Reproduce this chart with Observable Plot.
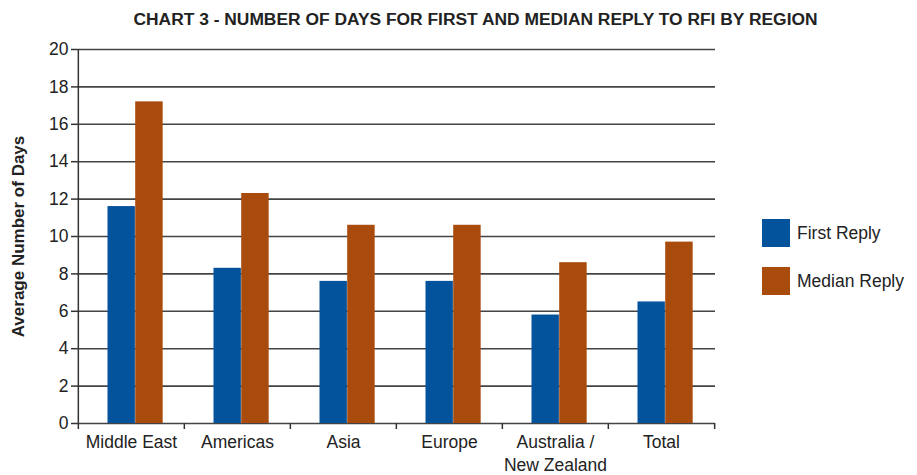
<!DOCTYPE html>
<html>
<head>
<meta charset="utf-8">
<script src="https://cdn.jsdelivr.net/npm/d3@7"></script>
<script src="https://cdn.jsdelivr.net/npm/@observablehq/plot@0.6"></script>
<style>
  html, body { margin: 0; padding: 0; background: #fff; }
  #wrap { position: relative; width: 917px; height: 475px; font-family: "Liberation Sans", Arial, sans-serif; color: #222; }
  #title { position: absolute; left: 0; width: 951px; top: 9px; text-align: center; font-weight: bold; font-size: 17.4px; line-height: 20px; color: #222; white-space: nowrap; }
  #legend { position: absolute; left: 762px; top: 219px; }
  .item { display: flex; align-items: center; height: 28px; margin-bottom: 20px; font-size: 17.5px; white-space: nowrap; }
  .sw { width: 28px; height: 28px; margin-right: 7px; flex: none; }
  svg { display: block; }
</style>
</head>
<body>
<div id="wrap">
  <div id="chart"></div>
  <div id="title"></div>
  <div id="legend"></div>
</div>
<script>
const chartTitle = "CHART 3 - NUMBER OF DAYS FOR FIRST AND MEDIAN REPLY TO RFI BY REGION";
const yLabel = "Average Number of Days";
const regions = ["Middle East", "Americas", "Asia", "Europe", "Australia /\nNew Zealand", "Total"];
const seriesNames = ["First Reply", "Median Reply"];
const firstReply = [11.6, 8.3, 7.6, 7.6, 5.8, 6.5];
const medianReply = [17.2, 12.3, 10.6, 10.6, 8.6, 9.7];
const seriesColors = ["#02529c", "#a94b0d"];
const yTicks = [0, 2, 4, 6, 8, 10, 12, 14, 16, 18, 20];

const W = 917, H = 475, mL = 77, mR = 202, mT = 49, mB = 52;
const bw = (W - mL - mR) / regions.length;
const FONT = '"Liberation Sans", Arial, sans-serif';

const firstRows = regions.map((r, i) => ({region: r, series: seriesNames[0], value: firstReply[i]}));
const medianRows = regions.map((r, i) => ({region: r, series: seriesNames[1], value: medianReply[i]}));

const plot = Plot.plot({
  width: W, height: H,
  marginLeft: mL, marginRight: mR, marginTop: mT, marginBottom: mB,
  style: {fontFamily: FONT, fontSize: "17.5px", color: "#222", background: "#fff", overflow: "visible"},
  x: {domain: regions, padding: 0, label: null},
  y: {domain: [0, 20], label: null},
  color: {domain: seriesNames, range: seriesColors},
  marks: [
    Plot.ruleY(yTicks, {stroke: "#444", strokeWidth: 1.6}),
    Plot.barY(firstRows, {x: "region", y: "value", fill: "series", insetLeft: 29.5, insetRight: bw - 57.2}),
    Plot.barY(medianRows, {x: "region", y: "value", fill: "series", insetLeft: 57.2, insetRight: bw - 85}),
    Plot.ruleX([regions[0]], {dx: -bw / 2, stroke: "#333", strokeWidth: 1.5}),
    Plot.ruleX(regions, {y1: 0, y2: 0, insetBottom: -6, dx: -bw / 2, stroke: "#333", strokeWidth: 1.5}),
    Plot.ruleX([regions[regions.length - 1]], {y1: 0, y2: 0, insetBottom: -6, dx: bw / 2, stroke: "#333", strokeWidth: 1.5}),
    Plot.axisY({ticks: yTicks, tickSize: 6, tickPadding: 3, stroke: "#333", strokeWidth: 1.5, fontSize: 17.5, label: null}),
    Plot.axisX({tickSize: 0, tickPadding: 7, fontSize: 17.5, lineHeight: 1.37, label: null}),
    Plot.text([yLabel], {frameAnchor: "left", textAnchor: "middle", rotate: -90, dx: -59, fontWeight: "bold", fontSize: 17, fill: "#222"})
  ]
});
document.getElementById("chart").appendChild(plot);

document.getElementById("title").textContent = chartTitle;
const legend = d3.select("#legend");
seriesNames.forEach((s, i) => {
  const item = legend.append("div").attr("class", "item");
  item.append("div").attr("class", "sw").style("background", seriesColors[i]);
  item.append("span").text(s);
});
</script>
</body>
</html>
